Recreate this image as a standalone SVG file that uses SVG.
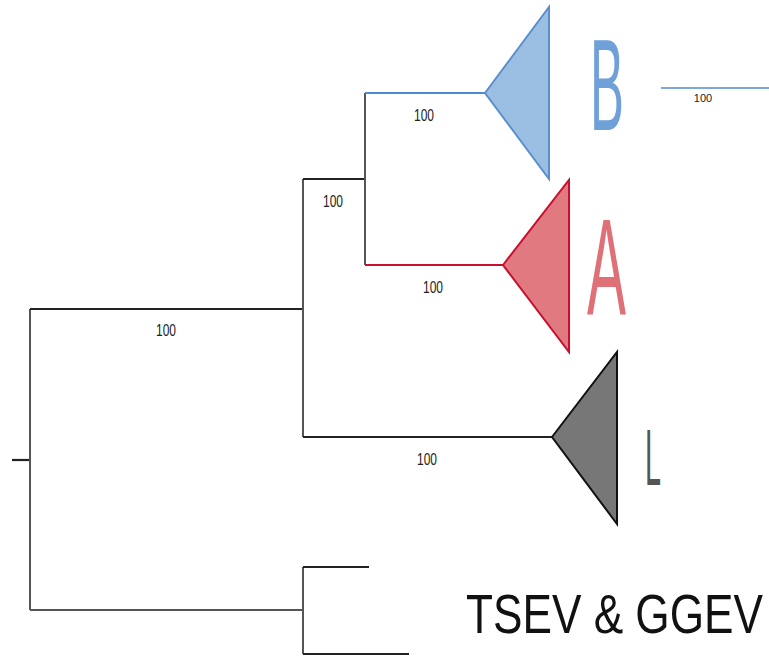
<svg xmlns="http://www.w3.org/2000/svg" width="769" height="657" viewBox="0 0 769 657">
<style>
.br{fill:none;stroke:#222;stroke-width:2.2}
.gr{fill:none;stroke:#555;stroke-width:2}
.lbl{font-family:"Liberation Sans",Arial,sans-serif;font-size:17px;fill:#222;text-anchor:middle}
.big{font-family:"Liberation Sans",Arial,sans-serif}
</style>
<rect width="769" height="657" fill="#fff"/>
<g id="connectors">
<path class="br" d="M12,460 H30"/>
<path class="gr" d="M30,309 V610"/>
<path class="br" d="M30,309 H303"/>
<path class="gr" d="M303,179 V437"/>
<path class="br" d="M303,179 H365"/>
<path class="gr" d="M365,93 V265"/>
<path d="M365,93 H485" fill="none" stroke="#4f8ad0" stroke-width="2"/>
<path d="M365,265 H503" fill="none" stroke="#c8102e" stroke-width="2"/>
<path class="br" d="M303,437 H552"/>
<path class="gr" d="M30,610 H303"/>
<path class="gr" d="M303,567 V654"/>
<path class="br" d="M303,567 H369"/>
<path class="br" d="M303,654 H409"/>
</g>
<g id="labels">
<text class="lbl" x="424" y="121" textLength="20" lengthAdjust="spacingAndGlyphs">100</text>
<text class="lbl" x="333" y="207" textLength="20" lengthAdjust="spacingAndGlyphs">100</text>
<text class="lbl" x="433" y="293" textLength="20" lengthAdjust="spacingAndGlyphs">100</text>
<text class="lbl" x="166" y="336" textLength="20" lengthAdjust="spacingAndGlyphs">100</text>
<text class="lbl" x="427" y="465" textLength="20" lengthAdjust="spacingAndGlyphs">100</text>
</g>
<g id="cladeB">
<polygon points="485,93 549,7 549,179" fill="#9bbfe2" stroke="#5b8fcc" stroke-width="2"/>
<text class="big" x="590" y="130" font-size="130" fill="#6fa0d8" textLength="34" lengthAdjust="spacingAndGlyphs">B</text>
</g>
<g id="cladeA">
<polygon points="503,265 569,180 569,352" fill="#e07a80" stroke="#c8102e" stroke-width="2"/>
<text class="big" x="587" y="315" font-size="137" fill="#e07078" textLength="39" lengthAdjust="spacingAndGlyphs">A</text>
</g>
<g id="cladeL">
<polygon points="552,437 617,352 617,524" fill="#777" stroke="#111" stroke-width="2"/>
<text class="big" x="645" y="485" font-size="80" fill="#555" textLength="16" lengthAdjust="spacingAndGlyphs">L</text>
</g>
<g id="outgroup">
<text class="big" x="466" y="633" font-size="55" fill="#111" textLength="297" lengthAdjust="spacingAndGlyphs">TSEV &amp; GGEV</text>
</g>
<g id="scale">
<path d="M661,88 H769" stroke="#4f8ad0" stroke-width="1.5"/>
<text x="703" y="102" font-family="'Liberation Sans',Arial,sans-serif" font-size="11" fill="#222" text-anchor="middle">100</text>
</g>
</svg>
